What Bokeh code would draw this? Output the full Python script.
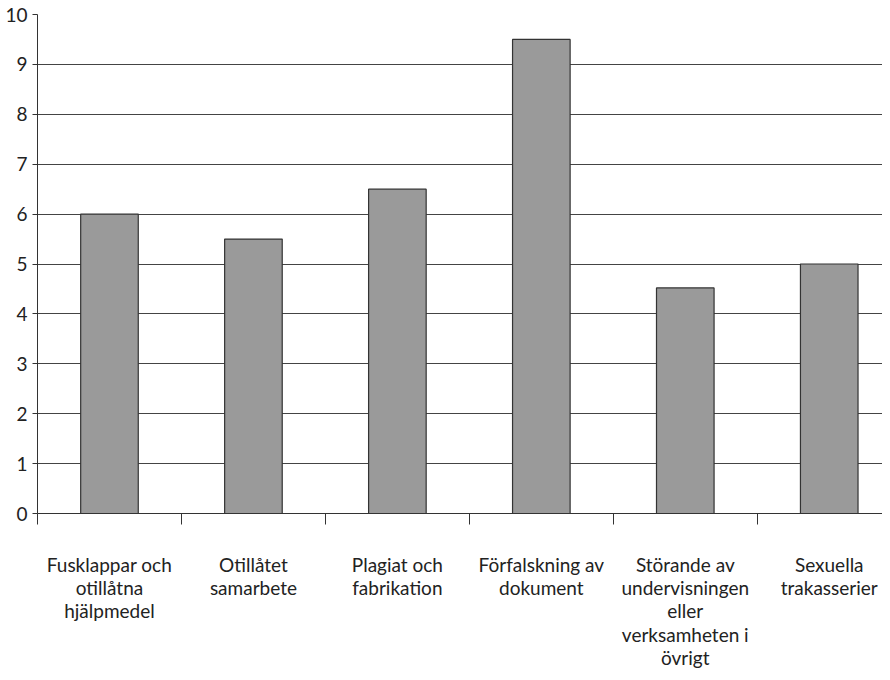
from bokeh.plotting import figure
from bokeh.models import Range1d, LinearAxis, FixedTicker, ColumnDataSource
from bokeh.embed import file_html
from bokeh.resources import INLINE

categories = ["Fusklappar och\notillåtna\nhjälpmedel",
              "Otillåtet\nsamarbete",
              "Plagiat och\nfabrikation",
              "Förfalskning av\ndokument",
              "Störande av\nundervisningen\neller\nverksamheten i\növrigt",
              "Sexuella\ntrakasserier"]
values = [6, 5.5, 6.5, 9.5, 4.52, 5]
y_ticks = list(range(0, 11))

n = len(categories)
centers = [i + 0.5 for i in range(n)]
boundaries = list(range(0, n + 1))

FONT = "Lato"
p = figure(width=882, height=672, output_backend="svg", toolbar_location=None,
           x_range=Range1d(0, 5.87), y_range=Range1d(0, 10),
           min_border_left=37, min_border_right=0, min_border_top=14,
           min_border_bottom=158, x_axis_location=None)
p.outline_line_color = None
p.background_fill_color = "white"
p.border_fill_color = "white"

src = ColumnDataSource(dict(x=centers, top=values))
p.vbar(x="x", top="top", width=0.4, bottom=0, source=src,
       fill_color="#9a9a9a", line_color="#333333", line_width=1.2)

# y axis
ya = p.yaxis[0]
ya.ticker = FixedTicker(ticks=y_ticks)
ya.axis_line_color = "#333333"
ya.major_tick_line_color = "#333333"
ya.major_tick_out = 5
ya.major_tick_in = 0
ya.minor_tick_line_color = None
ya.major_label_standoff = 5
ya.major_label_text_font = FONT
ya.major_label_text_font_size = "19px"
ya.major_label_text_color = "#222222"

p.xgrid.visible = False
p.ygrid.ticker = FixedTicker(ticks=y_ticks)
p.ygrid.grid_line_color = "#444444"
p.ygrid.grid_line_width = 1.2

# x axis: labels at category centers, tick marks at category boundaries
xa = LinearAxis(ticker=FixedTicker(ticks=centers, minor_ticks=boundaries),
                major_label_overrides={c: lab for c, lab in zip(centers, categories)})
xa.axis_line_color = "#333333"
xa.major_tick_line_color = None
xa.major_tick_out = 0
xa.major_tick_in = 0
xa.minor_tick_line_color = "#333333"
xa.minor_tick_out = 11
xa.minor_tick_in = 0
xa.major_label_standoff = 28
xa.major_label_text_font = FONT
xa.major_label_text_font_size = "19px"
xa.major_label_text_color = "#222222"
xa.major_label_text_line_height = 1.02
p.add_layout(xa, "below")

open("out.html", "w").write(file_html(p, INLINE))
